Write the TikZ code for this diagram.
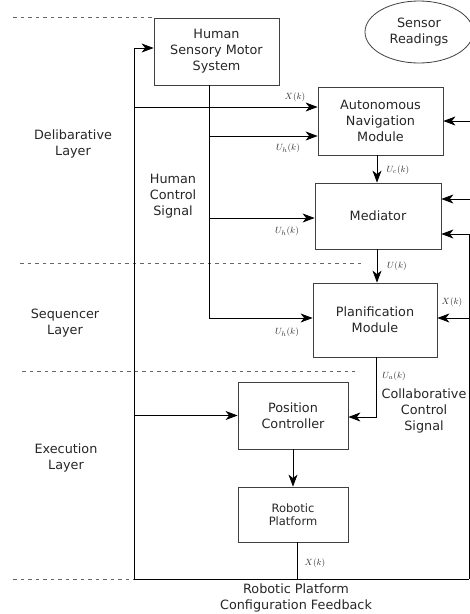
\documentclass[tikz,border=0pt]{standalone}
\usepackage{fontspec}
\setmainfont{DejaVu Sans}
\usetikzlibrary{arrows.meta,shapes.geometric,calc}
\tikzset{
  box/.style={draw=black!75, line width=0.8pt, rectangle, align=center, inner sep=0pt,
    font=\fontsize{12.8}{16}\selectfont, text=black!85},
  lbl/.style={align=center, inner sep=0pt, font=\fontsize{12.8}{16}\selectfont, text=black!85},
  mlbl/.style={inner sep=0pt, font=\fontsize{9.5}{11}\selectfont, text=black!80},
  arr/.style={-{Stealth[length=12pt,width=9pt,inset=3.5pt]}, line width=0.8pt},
  ln/.style={line width=0.8pt},
  dashl/.style={draw=black!60, line width=0.7pt, dash pattern=on 3.5pt off 4pt}
}
\begin{document}
\begin{tikzpicture}[x=1pt,y=-1pt]
\useasboundingbox (0,0) rectangle (470,614);
% layer separators
\draw[dashl] (13,17) -- (154,17);
\draw[dashl] (20,263) -- (362,263);
\draw[dashl] (22,371) -- (355,371);
\draw[dashl] (13,579) -- (273,579);
% blocks
\node[box, minimum width=125pt, minimum height=67pt] (human) at (216.5,51.5) {Human\\Sensory Motor\\System};
\node[box, ellipse, minimum width=108pt, minimum height=62pt] (sensor) at (419,32) {Sensor\\Readings};
\node[box, minimum width=125pt, minimum height=68pt] (auto) at (380.5,121) {Autonomous\\Navigation\\Module};
\node[box, minimum width=126pt, minimum height=66pt] (med) at (378,216) {Mediator};
\node[box, minimum width=124pt, minimum height=74pt] (plan) at (375,320) {Planification\\Module};
\node[box, minimum width=110pt, minimum height=67pt] (pc) at (293,415.5) {Position\\Controller};
\node[box, minimum width=110pt, minimum height=55pt, font=\fontsize{11.5}{13}\selectfont] (rp) at (293,514.5) {Robotic\\Platform};
% text labels
\node[lbl] (dl) at (73,144) {Delibarative\\Layer};
\node[lbl] (sl) at (65,323.5) {Sequencer\\Layer};
\node[lbl] (el) at (66,458) {Execution\\Layer};
\node[lbl] (hcs) at (173,196) {Human\\Control\\Signal};
\node[lbl] (ccs) at (424,411) {Collaborative\\Control\\Signal};
\node[lbl] (rpcf) at (296,598) {Robotic Platform\\Configuration Feedback};
% coordinates
\coordinate (fbB) at (297,579);
\coordinate (fbL) at (134,579);
\coordinate (fbR) at (469,579);
\coordinate (hs) at ([xshift=-7.5pt]human.south);
\coordinate (aX) at ([yshift=14pt]auto.west);
\coordinate (aU) at ([yshift=-15pt]auto.west);
\coordinate (mU) at ([yshift=-2pt]med.west);
\coordinate (pU) at ([yshift=2pt]plan.west);
\coordinate (pX) at ([yshift=2pt]plan.east);
\coordinate (mX) at ([yshift=-18pt]med.east);
\coordinate (mS) at ([yshift=17pt]med.east);
\coordinate (rs) at ([xshift=4pt]rp.south);
\coordinate (sA) at (470,121);
\coordinate (sM) at (470,199);
% feedback loop
\draw[arr] (rs) -- (fbB) -- (fbL) |- ([yshift=3.5pt]human.west);
\draw[ln] (fbB) -- (fbR);
\draw[arr] (fbR) |- (mX);
\draw[arr] (fbR |- pX) -- (pX);
\draw[arr] (fbL |- aX) -- (aX);
\draw[arr] (fbL |- pc.west) -- (pc.west);
% human control signal
\draw[ln] (hs) -- (hs |- pU);
\draw[arr] (hs |- aU) -- (aU);
\draw[arr] (hs |- mU) -- (mU);
\draw[arr] (hs |- pU) -- (pU);
% sensor inputs
\draw[arr] (sA) -- (auto.east);
\draw[arr] (sM) -- (mS);
% main chain
\draw[arr] ([xshift=-3.5pt]auto.south) -- ([xshift=-3.5pt]auto.south |- med.north);
\draw[arr] ([xshift=-1pt]med.south) -- ([xshift=-1pt]med.south |- plan.north);
\draw[arr] ([xshift=1pt]plan.south) |- ([yshift=-1.5pt]pc.east);
\draw[arr] (pc.south) -- (rp.north);
% math labels
\node[mlbl] (lX1) at (295,97) {$X(k)$};
\node[mlbl] (lU1) at (288,148) {$U_h(k)$};
\node[mlbl] (lUc) at (398,170) {$U_c(k)$};
\node[mlbl] (lU2) at (287,231) {$U_h(k)$};
\node[mlbl] (lU) at (397,266) {$U(k)$};
\node[mlbl] (lU3) at (287,332) {$U_h(k)$};
\node[mlbl] (lX2) at (452,302) {$X(k)$};
\node[mlbl] (lUa) at (394,376) {$U_a(k)$};
\node[mlbl] (lX3) at (315,563) {$X(k)$};
\end{tikzpicture}
\end{document}
